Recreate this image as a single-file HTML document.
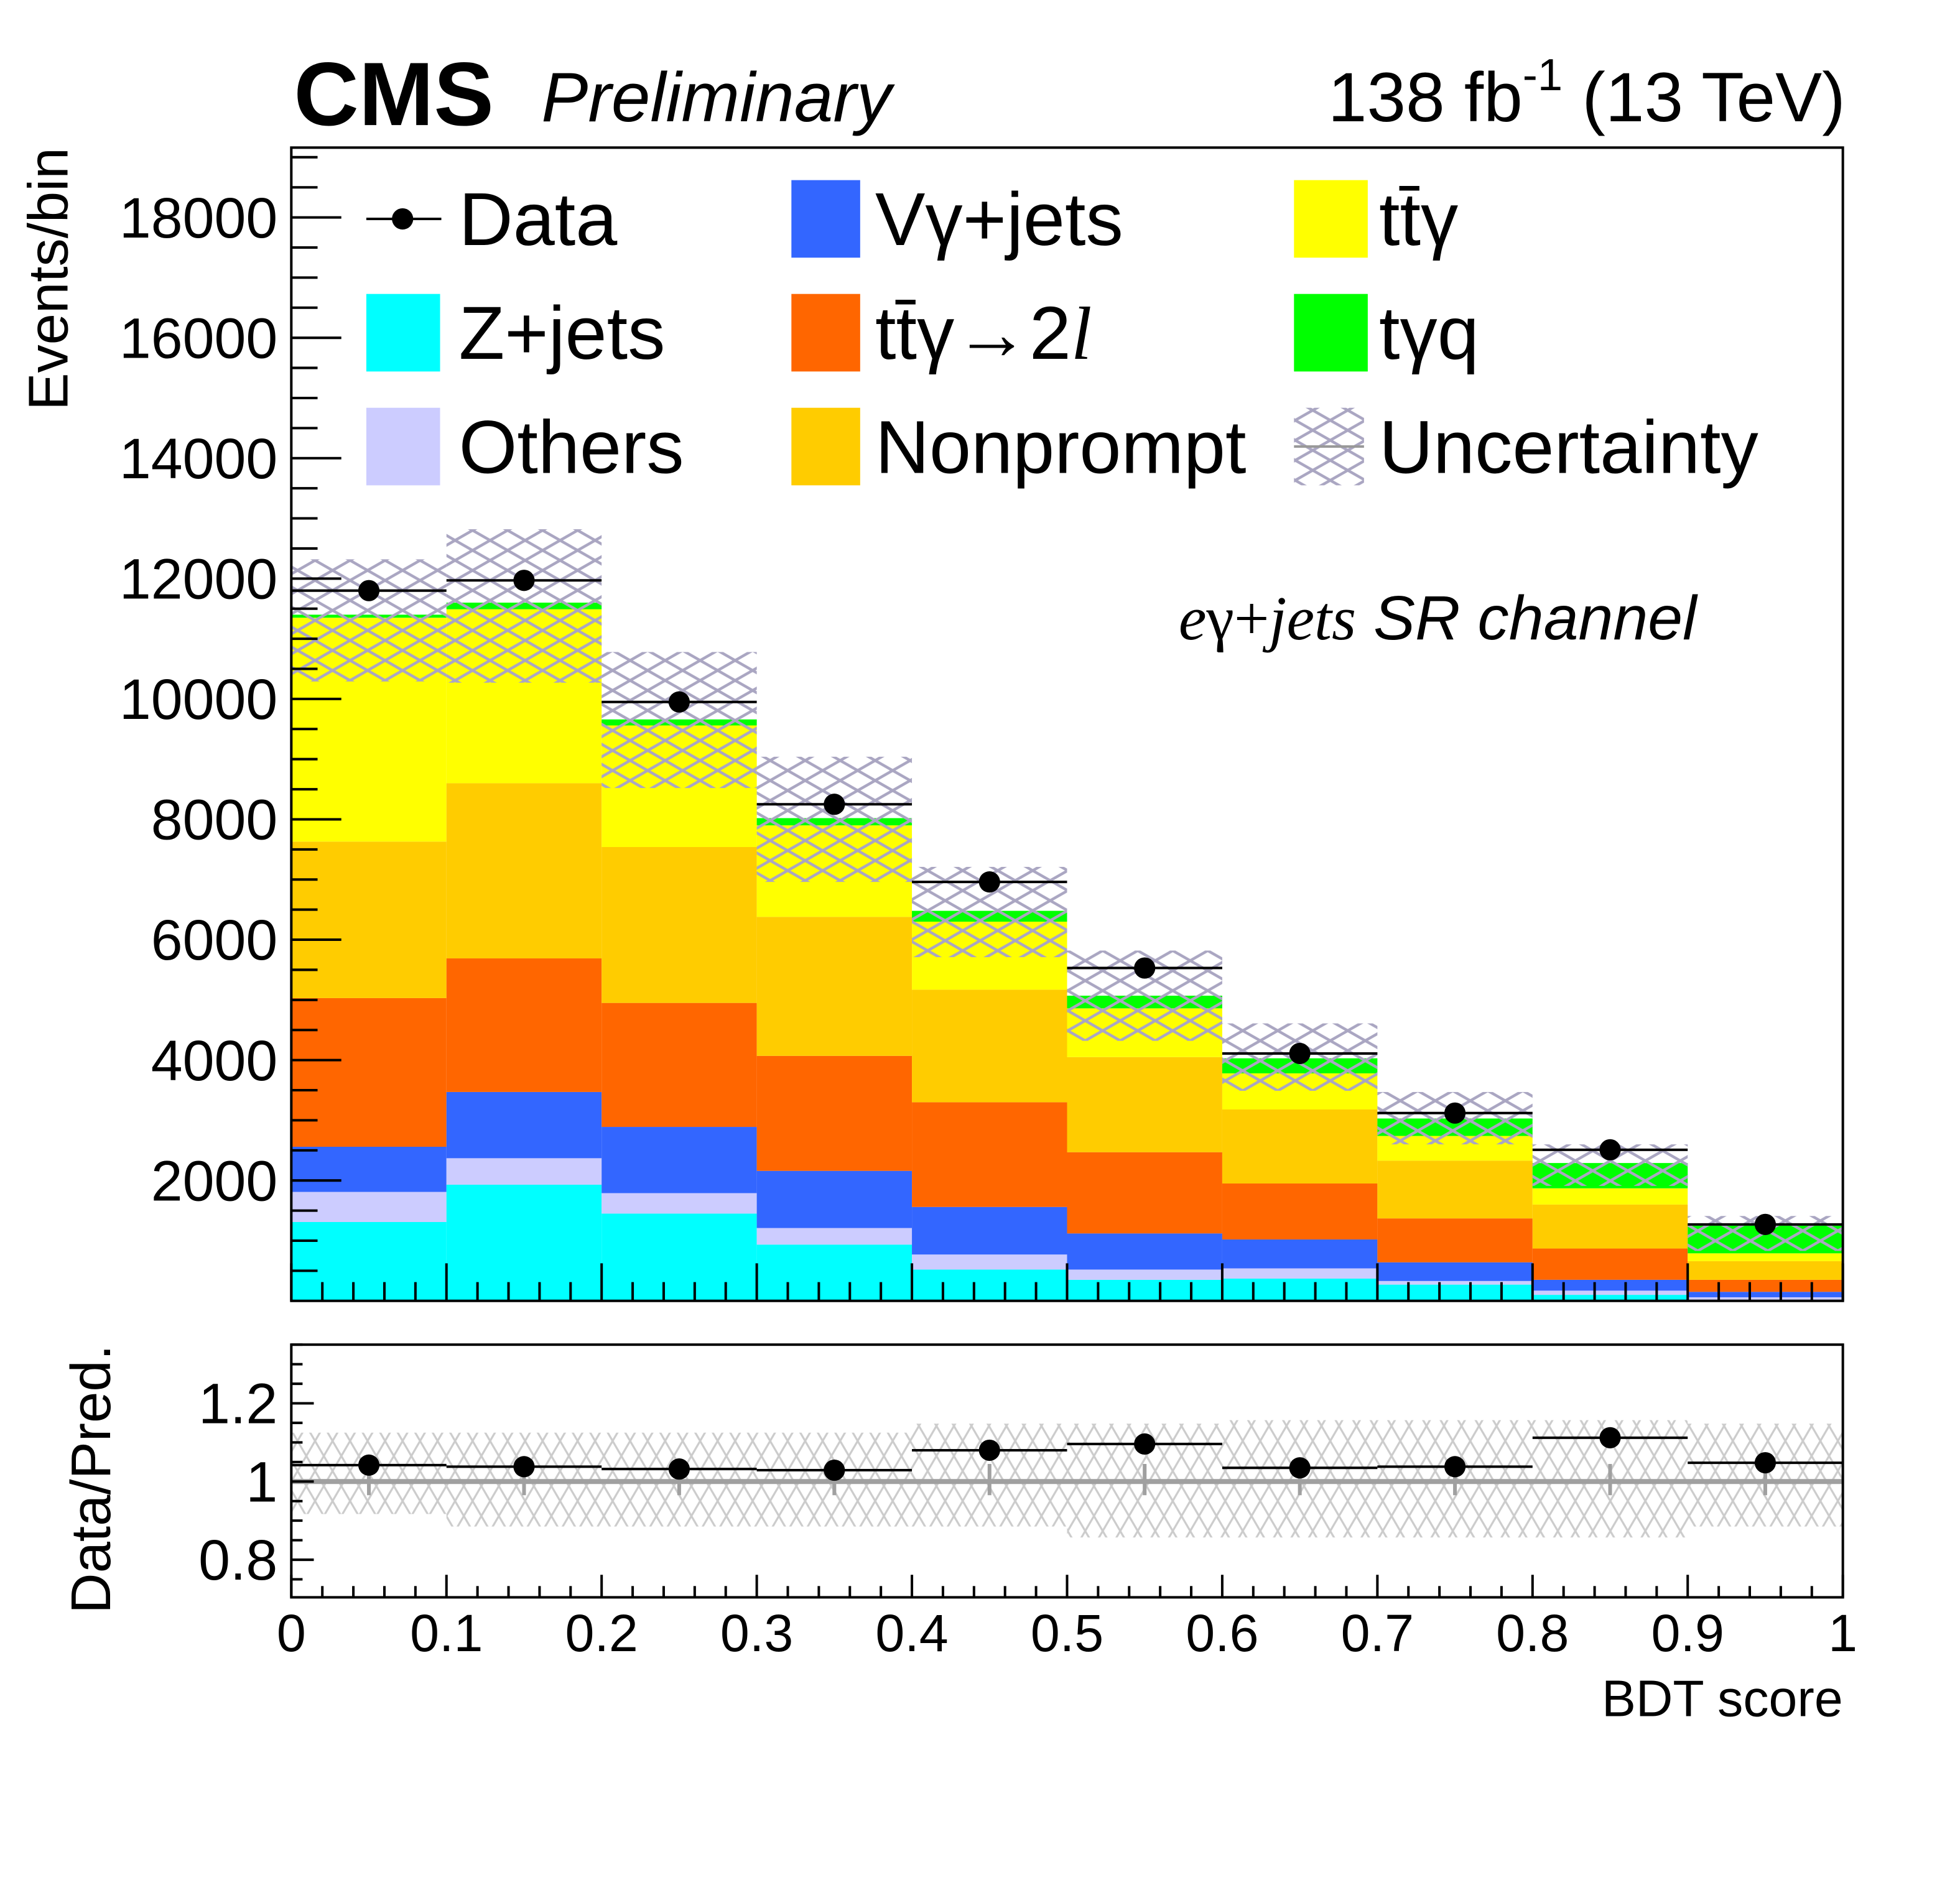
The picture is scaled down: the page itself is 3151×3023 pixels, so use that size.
<!DOCTYPE html>
<html><head><meta charset="utf-8"><style>
html,body{margin:0;padding:0;background:#fff}
svg{display:block}
text{font-family:"Liberation Sans",sans-serif}
</style></head><body>
<svg id="chart" xmlns="http://www.w3.org/2000/svg" width="3151" height="3023" viewBox="0 0 1567.7 1503" preserveAspectRatio="none">
<defs>
<pattern id="hatchMain" patternUnits="userSpaceOnUse" width="28" height="16">
<path d="M0,0 L28,16 M0,16 L28,0" stroke="#aaa6c2" stroke-width="2.2" fill="none"/>
</pattern>
<pattern id="hatchRatio" patternUnits="userSpaceOnUse" width="14" height="24">
<path d="M0,0 L14,24 M0,24 L14,0" stroke="#cccccc" stroke-width="1.6" fill="none"/>
</pattern>
</defs>
<g id="main"></g>
<g id="ratio"></g>
<text x="235" y="100" font-size="72" font-weight="bold">CMS</text>
<text x="433" y="97" font-size="56" font-style="italic">Preliminary</text>
<text x="1476" y="97" font-size="56" text-anchor="end">138 fb<tspan font-size="36" dy="-25">-1</tspan><tspan dy="25"> (13 TeV)</tspan></text>
<text x="1357" y="511" font-size="50" font-style="italic" text-anchor="end"><tspan font-family="Liberation Serif">e</tspan><tspan font-style="normal" font-family="Liberation Serif">γ+</tspan><tspan font-family="Liberation Serif">jets</tspan>  SR channel</text>
<text transform="translate(54,118) rotate(-90)" font-size="45" text-anchor="end">Events/bin</text>
<text transform="translate(88,1075) rotate(-90)" font-size="45" text-anchor="end">Data/Pred.</text>
<text x="1474" y="1372" font-size="41" text-anchor="end">BDT score</text>
<g id="legend"></g>
</svg>
<script>
const edges=[0,0.1,0.2,0.3,0.4,0.5,0.6,0.7,0.8,0.9,1.0];
const dataVals=[11800,11970,9950,8250,6960,5530,4110,3120,2510,1270];
const zjets=[1310,1930,1450,935,520,350,370,270,100,20];
const others=[500,440,340,275,250,170,170,60,70,40];
const vgamma=[750,1100,1100,950,790,600,480,310,180,90];
const ttg2l=[2470,2220,2060,1910,1740,1350,930,730,520,200];
const nonprompt=[2600,2910,2590,2310,1870,1580,1230,960,730,310];
const ttg=[3720,2890,2020,1520,1130,810,600,410,270,130];
const tgq=[50,110,100,120,180,210,250,290,420,460];
const bandHi=[12320,12820,10780,9040,7210,5820,4610,3470,2600,1410];
const bandLo=[10290,10270,8520,6960,5710,4320,3490,2600,1910,830];
const ratioVals=[1.042,1.038,1.032,1.029,1.08,1.096,1.035,1.038,1.112,1.048];
const ratioBandHi=[1.125,1.125,1.125,1.125,1.148,1.148,1.157,1.157,1.157,1.148];
const ratioBandLo=[0.917,0.885,0.885,0.885,0.885,0.857,0.857,0.857,0.857,0.885];
const yTicks=[2000,4000,6000,8000,10000,12000,14000,16000,18000];
const rTicks=[0.8,1,1.2];
const xTicks=[0,0.1,0.2,0.3,0.4,0.5,0.6,0.7,0.8,0.9,1];

const NS="http://www.w3.org/2000/svg";
const X0=233,X1=1474,Y0=1040,Y1=118,YMAX=19160,RY0=1277,RY1=1075,RMIN=0.704,RMAX=1.35;
const xs=v=>X0+(v-edges[0])/(edges[edges.length-1]-edges[0])*(X1-X0);
const ys=v=>Y0-v/YMAX*(Y0-Y1);
const yr=v=>RY0-(v-RMIN)/(RMAX-RMIN)*(RY0-RY1);
function mk(tag,attrs,parent){const e=document.createElementNS(NS,tag);for(const k in attrs)e.setAttribute(k,attrs[k]);parent.appendChild(e);return e;}
const main=document.getElementById('main'),ratio=document.getElementById('ratio'),legend=document.getElementById('legend');

const layers=[["z-jets",zjets,"#00ffff"],["others",others,"#ccccff"],["vgamma-jets",vgamma,"#3366ff"],["ttgamma-2l",ttg2l,"#ff6600"],["nonprompt",nonprompt,"#ffcc00"],["ttgamma",ttg,"#ffff00"],["tgammaq",tgq,"#00ff00"]];
for(let i=0;i<dataVals.length;i++){
  let base=0;
  for(const [nm,arr,col] of layers){
    const top=base+arr[i];
    const r=mk('rect',{x:xs(edges[i]),y:ys(top),width:xs(edges[i+1])-xs(edges[i]),height:ys(base)-ys(top),fill:col},main);
    
    
    base=top;
  }
}
for(let i=0;i<dataVals.length;i++){
  const b=mk('rect',{x:xs(edges[i]),y:ys(bandHi[i]),width:xs(edges[i+1])-xs(edges[i]),height:ys(bandLo[i])-ys(bandHi[i]),fill:"url(#hatchMain)"},main);
  
  
}
for(let i=0;i<dataVals.length;i++){
  const cx=(xs(edges[i])+xs(edges[i+1]))/2,cy=ys(dataVals[i]);
  const l=mk('line',{x1:xs(edges[i]),x2:xs(edges[i+1]),y1:cy,y2:cy,stroke:"#000","stroke-width":2},main);
  
  
  const c=mk('circle',{cx:cx,cy:cy,r:8.5,fill:"#000"},main);
  
  
}
const f=mk('rect',{x:X0,y:Y1,width:X1-X0,height:Y0-Y1,fill:"none",stroke:"#000","stroke-width":2},main);


for(let v=500;v<YMAX;v+=500){const maj=v%2000===0;mk('line',{x1:X0,x2:X0+(maj?40:21),y1:ys(v),y2:ys(v),stroke:"#000","stroke-width":2},main);}
for(const t of yTicks){const tx=mk('text',{x:222,y:ys(t)+16,"font-size":45.5,"text-anchor":"end"},main);tx.textContent=t;
  
  }
for(let k=0;k<=50;k++){const v=k*0.02,maj=k%5===0;
  mk('line',{x1:xs(v),x2:xs(v),y1:Y0,y2:Y0-(maj?30:15),stroke:"#000","stroke-width":2},main);
  mk('line',{x1:xs(v),x2:xs(v),y1:RY0,y2:RY0-(maj?18:9),stroke:"#000","stroke-width":2},ratio);}

for(let i=0;i<ratioVals.length;i++){
  const b=mk('rect',{x:xs(edges[i]),y:yr(ratioBandHi[i]),width:xs(edges[i+1])-xs(edges[i]),height:yr(ratioBandLo[i])-yr(ratioBandHi[i]),fill:"url(#hatchRatio)"},ratio);
  
  
}
const ul=mk('line',{x1:X0,x2:X1,y1:yr(1),y2:yr(1),stroke:"#a0a0a0","stroke-width":4},ratio);


for(let i=0;i<ratioVals.length;i++){
  const cx=(xs(edges[i])+xs(edges[i+1]))/2,cy=yr(ratioVals[i]);
  mk('line',{x1:cx,x2:cx,y1:yr(1.045),y2:yr(0.965),stroke:"#a0a0a0","stroke-width":3},ratio);
  const l=mk('line',{x1:xs(edges[i]),x2:xs(edges[i+1]),y1:cy,y2:cy,stroke:"#000","stroke-width":2},ratio);
  
  
  const c=mk('circle',{cx:cx,cy:cy,r:8.5,fill:"#000"},ratio);
  
  
}
const rf=mk('rect',{x:X0,y:RY1,width:X1-X0,height:RY0-RY1,fill:"none",stroke:"#000","stroke-width":2},ratio);


for(let k=15;k<=27;k++){const v=k*0.05;if(v<RMIN||v>RMAX)continue;const maj=Math.abs(v*10-Math.round(v*10))<1e-6&&Math.round(v*10)%2===0;
  mk('line',{x1:X0,x2:X0+(maj?18:9),y1:yr(v),y2:yr(v),stroke:"#000","stroke-width":2},ratio);}
for(const t of rTicks){const tx=mk('text',{x:222,y:yr(t)+16,"font-size":45.5,"text-anchor":"end"},ratio);tx.textContent=t;
  
  }
for(const t of xTicks){const tx=mk('text',{x:xs(t),y:1320,"font-size":42,"text-anchor":"middle"},ratio);tx.textContent=t;
  
  }

const leg=[
 ["data",293,175,"Data",null],["vgamma",633,175,"Vγ+jets","#3366ff"],["ttgamma",1035,175,"tt̄γ","#ffff00"],
 ["zjets",293,266,"Z+jets","#00ffff"],["ttgamma2l",633,266,"tt̄γ→2",'#ff6600'],["tgammaq",1035,266,"tγq","#00ff00"],
 ["others",293,357,"Others","#ccccff"],["nonprompt",633,357,"Nonprompt","#ffcc00"],["unc",1035,357,"Uncertainty","hatch"]];
for(const [nm,x,y,lab,col] of leg){
  const g=mk('g',{},legend);
  
  
  if(col===null){mk('line',{x1:x,x2:x+60,y1:y,y2:y,stroke:"#000","stroke-width":2},g);mk('circle',{cx:x+29,cy:y,r:8.5,fill:"#000"},g);}
  else if(col==="hatch"){mk('rect',{x:x,y:y-31,width:56,height:62,fill:"url(#hatchMain)"},g);mk('line',{x1:x,x2:x+56,y1:y,y2:y,stroke:"#999","stroke-width":2},g);}
  else mk('rect',{x:x,y:y-31,width:nm==="vgamma"||nm==="ttgamma2l"||nm==="nonprompt"?55:59,height:62,fill:col},g);
  const tx=mk('text',{x:x+(x===293?74:(x===633?67:68)),y:y+21,"font-size":60},g);
  tx.textContent=lab;
  if(nm==="ttgamma2l"){const s=mk('tspan',{"font-family":"Liberation Serif","font-style":"italic"},tx);s.textContent="l";}
}
</script>
</body></html>
